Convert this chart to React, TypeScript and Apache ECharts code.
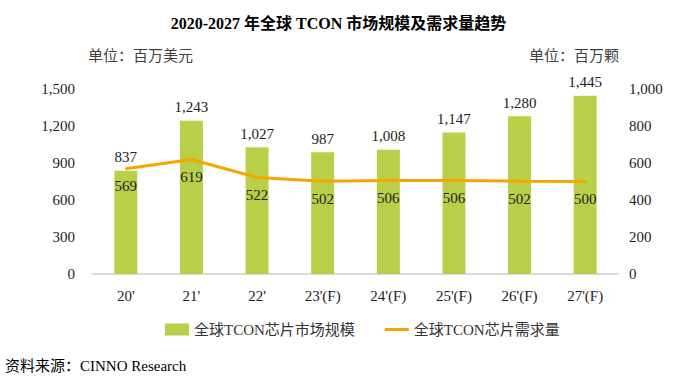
import React, { useEffect, useRef } from "react";
import * as echarts from "echarts";

const categories = ["20'", "21'", "22'", "23'(F)", "24'(F)", "25'(F)", "26'(F)", "27'(F)"];
const marketSize = [837, 1243, 1027, 987, 1008, 1147, 1280, 1445];
const demand = [569, 619, 522, 502, 506, 506, 502, 500];
const barName = "全球TCON芯片市场规模";
const lineName = "全球TCON芯片需求量";
const titleText = "2020-2027 年全球 TCON 市场规模及需求量趋势";
const leftUnit = "单位：百万美元";
const rightUnit = "单位：百万颗";
const sourceText = "资料来源：CINNO Research";

const FONT = "'Liberation Serif', 'Noto Sans CJK SC', serif";

export default function App() {
  const ref = useRef<HTMLDivElement>(null);
  useEffect(() => {
    document.body.style.margin = "0";
    const chart = echarts.init(ref.current!, undefined, { renderer: "svg" });
    const fmt = (v: number) => v.toLocaleString("en-US");
    chart.setOption({
      animation: false,
      backgroundColor: "#ffffff",
      textStyle: { fontFamily: FONT },
      title: {
        text: titleText,
        left: "center",
        top: 10,
        textStyle: { fontFamily: FONT, fontSize: 16, fontWeight: "bold", color: "#000" },
      },
      graphic: [
        {
          type: "text",
          left: 88,
          top: 48,
          style: { text: leftUnit, font: `15px ${FONT}`, fill: "#404040" },
        },
        {
          type: "text",
          left: 529,
          top: 48,
          style: { text: rightUnit, font: `15px ${FONT}`, fill: "#404040" },
        },
        {
          type: "text",
          left: 5,
          top: 358,
          style: { text: sourceText, font: `15px ${FONT}`, fill: "#000" },
        },
      ],
      legend: {
        left: 160,
        top: 317,
        itemGap: 30,
        itemWidth: 24,
        itemHeight: 12,
        textStyle: { fontFamily: FONT, fontSize: 15, color: "#333" },
        data: [
          { name: barName, icon: "rect" },
          { name: lineName, icon: "path://M0,0 L24,0 L24,3 L0,3 Z" },
        ],
      },
      grid: { left: 93, right: 59, top: 89, bottom: 113 },
      xAxis: {
        type: "category",
        data: categories,
        axisLine: { lineStyle: { color: "#d9d9d9", width: 2 } },
        axisTick: { show: false },
        axisLabel: { color: "#222", fontSize: 15, fontFamily: FONT, margin: 14 },
      },
      yAxis: [
        {
          type: "value",
          min: 0,
          max: 1500,
          interval: 300,
          splitLine: { show: false },
          axisLine: { show: false },
          axisTick: { show: false },
          axisLabel: { color: "#222", fontSize: 15, fontFamily: FONT, margin: 18, formatter: fmt },
        },
        {
          type: "value",
          min: 0,
          max: 1000,
          interval: 200,
          splitLine: { show: false },
          axisLine: { show: false },
          axisTick: { show: false },
          axisLabel: { color: "#222", fontSize: 15, fontFamily: FONT, margin: 11, formatter: fmt },
        },
      ],
      series: [
        {
          name: barName,
          type: "bar",
          data: marketSize,
          barWidth: 23,
          itemStyle: { color: "#b8cf4a" },
          label: {
            show: true,
            position: "top",
            distance: 6,
            color: "#222",
            fontSize: 15,
            fontFamily: FONT,
            formatter: (p: any) => fmt(p.value),
          },
        },
        {
          name: lineName,
          type: "line",
          yAxisIndex: 1,
          data: demand,
          symbol: "circle",
          symbolSize: 2,
          showSymbol: true,
          lineStyle: { color: "#f5a700", width: 3 },
          itemStyle: { color: "#f5a700" },
          label: {
            show: true,
            position: "bottom",
            distance: 9,
            color: "#222",
            fontSize: 15,
            fontFamily: FONT,
          },
        },
      ],
    });
    return () => chart.dispose();
  }, []);
  return <div ref={ref} style={{ width: 677, height: 387 }} />;
}
